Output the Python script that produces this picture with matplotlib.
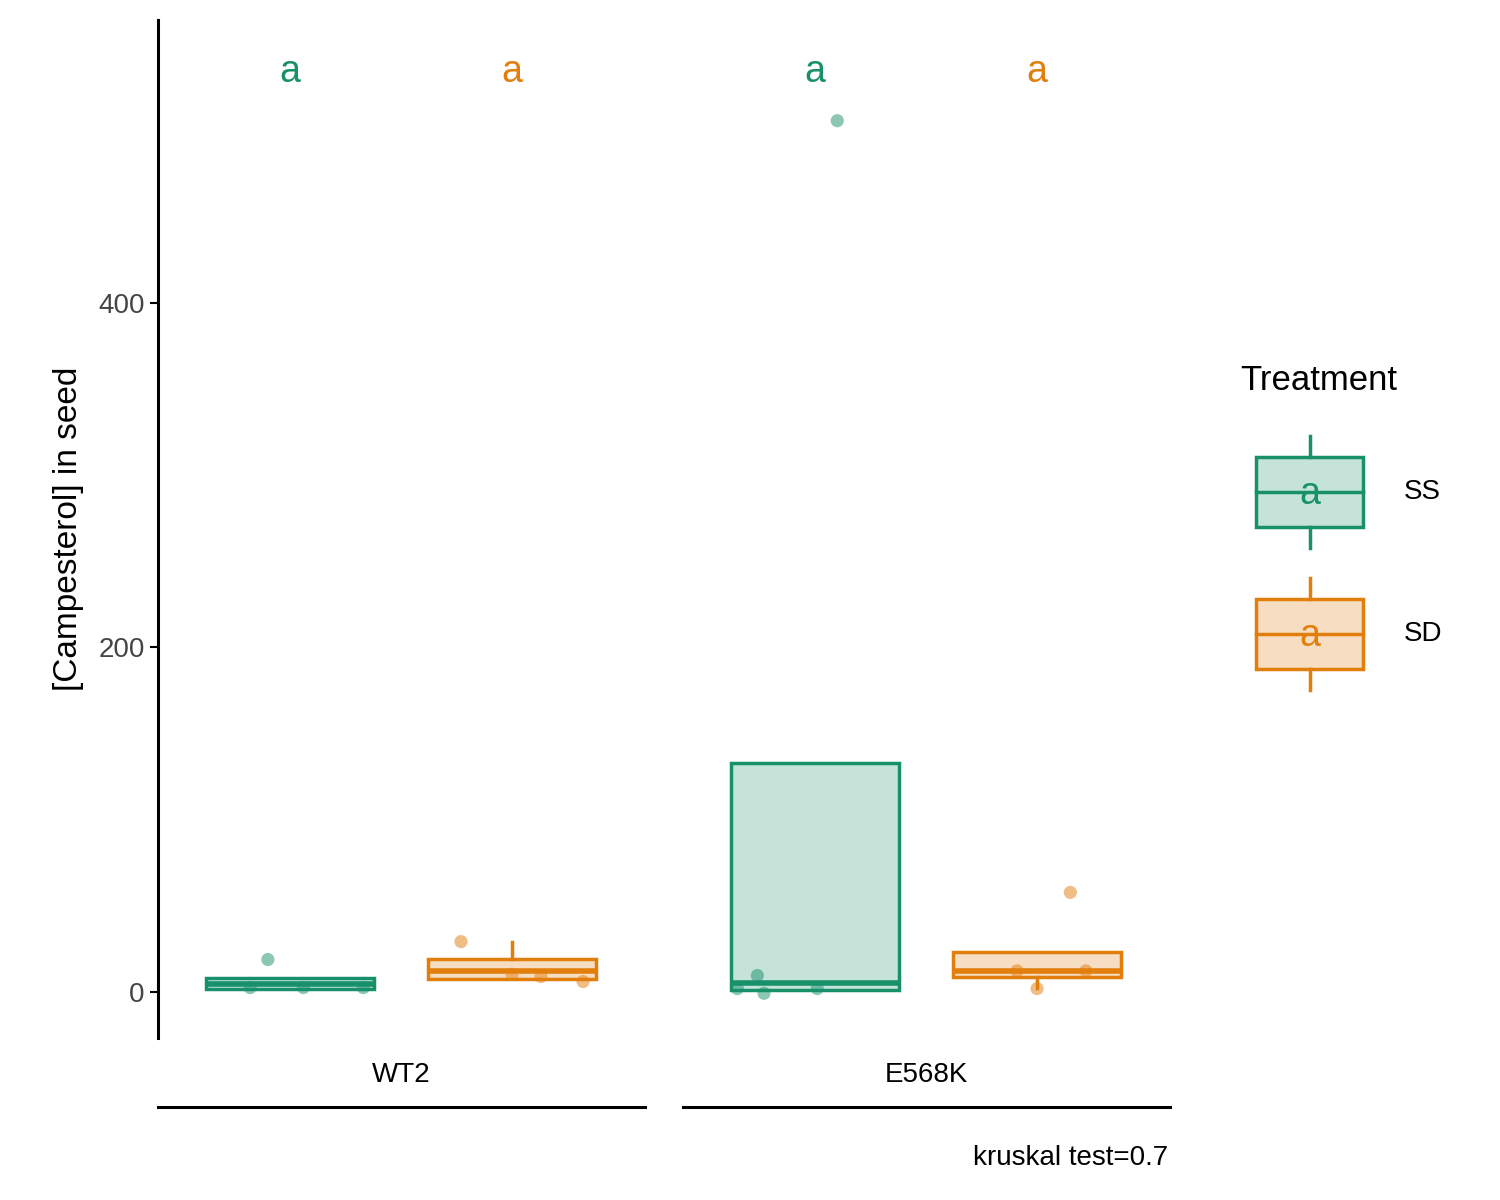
import matplotlib
matplotlib.use("Agg")
import matplotlib.pyplot as plt
from matplotlib.lines import Line2D
from matplotlib.patches import Rectangle

plt.rcParams['font.family'] = ['Liberation Sans', 'DejaVu Sans']

genotypes = ["WT2", "E568K"]
treatments = ["SS", "SD"]
colors = {"SS": "#18906A", "SD": "#E27E0C"}
positions = [1.0, 2.0, 3.365, 4.365]
group_keys = [("WT2", "SS"), ("WT2", "SD"), ("E568K", "SS"), ("E568K", "SD")]

# box stats: whislo, q1, med, q3, whishi
box_stats = {
    ("WT2", "SS"): [1.5, 1.5, 4.5, 8, 8],
    ("WT2", "SD"): [7.5, 7.5, 12, 19, 29],
    ("E568K", "SS"): [1, 1, 5, 133, 133],
    ("E568K", "SD"): [2, 8.7, 12, 23, 23],
}
pts_offset = {
    ("WT2", "SS"): [-0.10, -0.18, 0.06, 0.33],
    ("WT2", "SD"): [-0.23, 0.13, 0.32, 0.0],
    ("E568K", "SS"): [0.10, -0.26, -0.35, -0.23, 0.01],
    ("E568K", "SD"): [0.15, -0.09, 0.22, 0.0],
}
pts_value = {
    ("WT2", "SS"): [18.6, 2.3, 2.3, 2.3],
    ("WT2", "SD"): [29, 8.7, 5.8, 10],
    ("E568K", "SS"): [506, 9.3, 1.7, -1, 1.7],
    ("E568K", "SD"): [57.6, 12, 12, 1.7],
}
letters = ["a", "a", "a", "a"]
letter_y = 534
yticks = [0, 200, 400]

fig = plt.figure(figsize=(15, 12), dpi=100)
ax = fig.add_axes([158/1500, 162/1200, 1012/1500, 1018/1200])
ax.set_xlim(0.405, 4.964)
ax.set_ylim(-27, 564.5)
for s in ["top", "right", "bottom"]:
    ax.spines[s].set_visible(False)
ax.spines["left"].set_linewidth(2.2)
ax.set_xticks([])
ax.set_yticks(yticks)
ax.tick_params(axis="y", labelsize=20, length=6, width=1.5, colors="black", labelcolor="#444444")
ax.set_ylabel("[Campesterol] in seed", fontsize=24, labelpad=10)

bw = 0.757
for key, pos in zip(group_keys, positions):
    c = colors[key[1]]
    lo, q1, med, q3, hi = box_stats[key]
    stats = [dict(whislo=lo, q1=q1, med=med, q3=q3, whishi=hi, fliers=[])]
    ax.bxp(stats, positions=[pos], widths=bw, patch_artist=True, showcaps=False,
           boxprops=dict(facecolor=matplotlib.colors.to_rgba(c, 0.25), edgecolor=c, linewidth=2.5),
           whiskerprops=dict(color=c, linewidth=2.5),
           medianprops=dict(color=c, linewidth=4), manage_ticks=False)
    xs = [pos + o for o in pts_offset[key]]
    ax.scatter(xs, pts_value[key], s=90, color=c, alpha=0.5, edgecolors="none", zorder=3)
for pos, key, l in zip(positions, group_keys, letters):
    ax.text(pos, letter_y, l, color=colors[key[1]], fontsize=27, ha="center", va="center")

for (x0, x1), g in zip([(158, 645), (683, 1170)], genotypes):
    fig.add_artist(Line2D([x0/1500, x1/1500], [1-1107/1200]*2, color="black", lw=2.2))
    fig.text((x0+x1)/2/1500, 1-1075/1200, g, ha="center", va="center", fontsize=20)
fig.text(1168/1500, 1-1158/1200, "kruskal test=0.7", ha="right", va="center", fontsize=20)

lax = fig.add_axes([1230/1500, 1-720/1200, 250/1500, 300/1200])
lax.set_xlim(1230, 1480)
lax.set_ylim(720, 420)
lax.axis("off")
fig.text(1240/1500, 1-380/1200, "Treatment", fontsize=25, ha="left", va="center")
for t, yc in zip(treatments, [492, 634]):
    c = colors[t]
    lax.add_patch(Rectangle((1256, yc-35), 107, 70, facecolor=matplotlib.colors.to_rgba(c, 0.25),
                            edgecolor=c, lw=2.5))
    lax.plot([1309.5, 1309.5], [yc-56, yc-35], color=c, lw=2.5)
    lax.plot([1309.5, 1309.5], [yc+35, yc+56], color=c, lw=2.5)
    lax.plot([1256, 1363], [yc, yc], color=c, lw=2.5)
    lax.text(1309.5, yc+2, "a", color=c, fontsize=27, ha="center", va="center")
    lax.text(1404, yc, t, fontsize=20, ha="left", va="center")

fig.savefig("out.png", dpi=100)
